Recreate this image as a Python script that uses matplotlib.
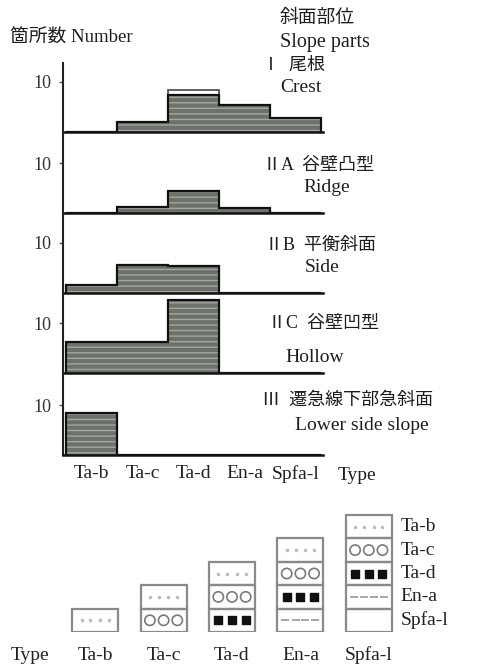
import matplotlib
matplotlib.use("Agg")
import matplotlib.pyplot as plt

plt.rcParams["font.family"] = ["Liberation Serif", "Noto Sans CJK JP"]
plt.rcParams["font.size"] = 12

# ─── data ───────────────────────────────────────────────────────────────
types = ["Ta-b", "Ta-c", "Ta-d", "En-a", "Spfa-l"]

crest  = [0, 2.0, 7.5, 5.4, 2.8]
crest_outline = [0, 2.0, 8.5, 5.4, 2.8]
ridge  = [0, 1.2, 4.4, 1.0, 0]
side   = [1.6, 5.5, 5.3, 0, 0]
hollow = [6.2, 6.2, 14.6, 0, 0]
lower  = [8.4, 0, 0, 0, 0]

panel_names = [
    ("Ⅰ  尾根", "Crest"),
    ("ⅡA  谷壁凸型", "Ridge"),
    ("ⅡB  平衡斜面", "Side"),
    ("ⅡC  谷壁凹型", "Hollow"),
    ("Ⅲ  遷急線下部急斜面", "Lower side slope"),
]
panel_values = [crest, ridge, side, hollow, lower]
# ────────────────────────────────────────────────────────────────────────

W, H = 485, 665
fig = plt.figure(figsize=(W / 100, H / 100), dpi=100)


def px_axes(left, top, right, bottom):
    return fig.add_axes([left / W, 1 - bottom / H, (right - left) / W, (bottom - top) / H])


def ftext(x, y, s, **kw):
    kw.setdefault("ha", "left")
    kw.setdefault("va", "center")
    kw.setdefault("color", "#1e1e1e")
    fig.text(x / W, 1 - y / H, s, **kw)


FILL = "#6c726b"
STREAK = "#a2a79f"
PX_PER_UNIT = 5.0
bin_px = 51.0
edges = list(range(len(types) + 1))

# panel extents in pixels: (top, bottom)
extents = [(63, 132), (132, 213), (213, 293), (293, 373), (373, 455)]
label_pos = [((262, 65), (280, 88)),
             ((263, 165), (303, 188)),
             ((265, 245), (305, 268)),
             ((268, 323), (285, 358)),
             ((262, 400), (295, 425))]

for k, ((top, bottom), vals) in enumerate(zip(extents, panel_values)):
    ax = px_axes(63, top, 323, bottom)
    x = range(len(types))
    if k == 0:
        ax.stairs(crest_outline, edges, color="#555555", lw=1.3)
    ax.bar(x, vals, width=1, align="edge", facecolor=FILL, edgecolor=STREAK,
           hatch="---", lw=0)
    ax.stairs(vals, edges, color="#111111", lw=1.6)
    ax.set_xlim(-3 / bin_px, (323 - 66) / bin_px)
    ax.set_ylim(0, (bottom - top) / PX_PER_UNIT)
    ax.patch.set_alpha(0)
    for s in ("top", "right"):
        ax.spines[s].set_visible(False)
    ax.spines["left"].set_linewidth(1.5)
    ax.spines["bottom"].set_linewidth(1.8)
    ax.spines["left"].set_color("#222222")
    ax.spines["bottom"].set_color("#111111")
    ax.set_yticks([10])
    ax.set_yticklabels(["10"], fontsize=13, color="#333333")
    ax.tick_params(axis="y", length=3, width=1, pad=5, color="#555555")
    if k == len(extents) - 1:
        ax.set_xticks([i + 0.5 for i in x])
        ax.set_xticklabels(types, fontsize=14, color="#222222")
        ax.tick_params(axis="x", length=0, pad=7)
    else:
        ax.set_xticks([])
    (p1, p2) = label_pos[k]
    ftext(p1[0], p1[1], panel_names[k][0], fontsize=13)
    ftext(p2[0], p2[1], panel_names[k][1], fontsize=14)

ftext(338, 475, "Type", fontsize=14)
ftext(10, 38, "箇所数 Number", fontsize=13.5)
ftext(280, 18, "斜面部位", fontsize=13.5)
ftext(280, 42, "Slope parts", fontsize=14.5)

# ─── lower part: tephra columns ─────────────────────────────────────────
LAYER_PX = 23.4
ax2 = px_axes(61, 632 - 5.2 * LAYER_PX, 403, 632)
ax2.set_xlim(-0.5, 4.5)
ax2.set_ylim(0, 5.2)
ax2.axis("off")

box_w = 0.67
for i in range(len(types)):
    for j in range(i + 1):
        t = i - j  # type of the layer j (counted from the bottom)
        ax2.bar(i, 1, bottom=j, width=box_w, fill=False, edgecolor="#8a8a8a", lw=1.6)
        yc = j + 0.5
        if t == 0:
            ax2.scatter([i - 0.2, i - 0.07, i + 0.07, i + 0.2], [yc] * 4, marker=".",
                        s=10, color="#bdbdbd")
        elif t == 1:
            ax2.scatter([i - 0.2, i, i + 0.2], [yc] * 3, marker="o", s=55,
                        facecolor="none", edgecolor="#7a7a7a", lw=1.2)
        elif t == 2:
            ax2.scatter([i - 0.2, i, i + 0.2], [yc] * 3, marker="s", s=30,
                        color="#111111")
        elif t == 3:
            ax2.scatter([i - 0.22, i - 0.07, i + 0.07, i + 0.22], [yc] * 4,
                        marker="_", s=30, color="#9a9a9a", lw=1.2)
    ax2.text(i, -1.0, types[i], ha="center", va="center", fontsize=14,
             color="#222222")

for t, name in enumerate(types):
    ax2.text(4.46, 4.5 - t, name, ha="left", va="center", fontsize=14,
             color="#222222")
ax2.text(-0.95, -1.0, "Type", ha="center", va="center", fontsize=14,
         color="#222222")

fig.savefig("out.png", dpi=100)
